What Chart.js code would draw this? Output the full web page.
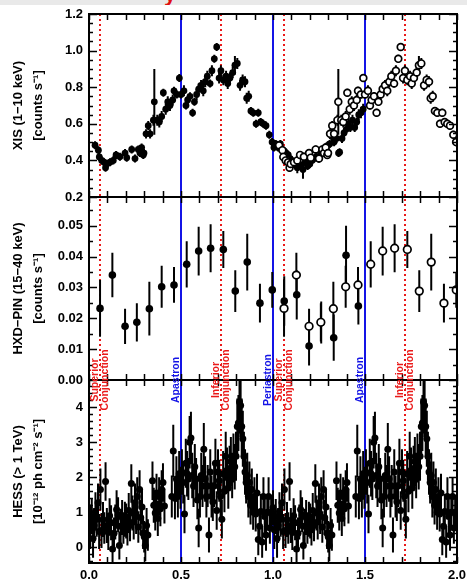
<!DOCTYPE html>
<html><head><meta charset="utf-8">
<script src="https://cdn.jsdelivr.net/npm/chart.js@4.4.1/dist/chart.umd.min.js"></script>
<style>
html,body{margin:0;padding:0;background:#fff;}
#wrap{position:relative;width:467px;height:582px;overflow:hidden;background:#fff;}
#topband{position:absolute;left:0;top:0;width:467px;height:5px;background:#e9e9e9;overflow:hidden;}
#topband span{position:absolute;left:164px;top:-19px;font:bold 22px "Liberation Sans",Arial,sans-serif;color:#e01010;}
canvas{position:absolute;left:0;top:0;}
</style></head><body>
<div id="wrap"><canvas id="c" width="467" height="582"></canvas><div id="topband"><span>y</span></div></div>
<script>
// ---------------- DATA ----------------
// Suzaku XIS (1-10 keV), continuous observation, orbital phase
const xisPhase = [0.033,0.051,0.056,0.069,0.082,0.090,0.096,0.114,0.132,0.147,
  0.168,0.196,0.205,0.232,0.250,0.268,0.277,0.286,0.295,0.299,
  0.310,0.322,0.332,0.350,0.355,0.371,0.382,0.395,0.404,0.417,
  0.428,0.440,0.455,0.462,0.477,0.491,0.500,0.516,0.527,0.536,
  0.549,0.563,0.573,0.585,0.596,0.609,0.621,0.632,0.643,0.658,
  0.668,0.681,0.694,0.707,0.717,0.730,0.745,0.754,0.766,0.781,
  0.793,0.806,0.821,0.835,0.848,0.857,0.868,0.880,0.893,0.908,
  0.920,0.933,0.947,0.962,0.980,0.995,
  1.005,1.015,1.028,1.040,1.050,1.062,1.072,1.083,1.093,1.102,
  1.112,1.122,1.132,1.142,1.152,1.163,1.175,1.188,1.200,1.212,
  1.224,1.236,1.248,1.260,1.272,1.284,1.296,1.308,1.320,1.332,
  1.345,1.356,1.362,1.375,1.386,1.398,1.410,1.420,1.432,1.444,
  1.455,1.466,1.478,1.490];
const xisRate = [0.483,0.456,0.419,0.400,0.390,0.360,0.380,0.390,0.400,0.430,
  0.420,0.440,0.415,0.460,0.410,0.460,0.440,0.470,0.430,0.440,
  0.545,0.590,0.545,0.620,0.720,0.620,0.610,0.640,0.770,0.680,
  0.720,0.700,0.730,0.780,0.760,0.850,0.760,0.780,0.700,0.730,
  0.750,0.660,0.720,0.760,0.790,0.810,0.780,0.830,0.860,0.820,
  0.890,0.955,1.020,0.850,0.890,0.840,0.860,0.820,0.850,0.880,
  0.920,0.930,0.810,0.840,0.830,0.740,0.750,0.670,0.660,0.600,
  0.660,0.610,0.600,0.590,0.540,0.500,
  0.470,0.490,0.470,0.490,0.460,0.450,0.440,0.430,0.410,0.400,
  0.380,0.390,0.360,0.380,0.370,0.350,0.390,0.370,0.380,0.400,
  0.410,0.420,0.410,0.440,0.450,0.465,0.480,0.490,0.530,0.500,
  0.520,0.440,0.445,0.520,0.550,0.570,0.600,0.580,0.620,0.580,
  0.610,0.650,0.660,0.680];
const xisErr = [0.022,0.022,0.022,0.022,0.022,0.022,0.022,0.022,0.022,0.022,
  0.022,0.022,0.022,0.022,0.022,0.022,0.022,0.022,0.022,0.022,
  0.025,0.025,0.025,0.030,0.180,0.030,0.030,0.030,0.022,0.030,
  0.030,0.030,0.030,0.022,0.022,0.022,0.022,0.030,0.022,0.022,
  0.022,0.022,0.022,0.030,0.030,0.030,0.030,0.030,0.030,0.022,
  0.030,0.022,0.022,0.030,0.030,0.030,0.030,0.030,0.030,0.030,
  0.050,0.030,0.030,0.030,0.030,0.030,0.030,0.022,0.022,0.022,
  0.022,0.022,0.022,0.022,0.022,0.022,
  0.022,0.022,0.022,0.022,0.022,0.022,0.022,0.022,0.022,0.022,
  0.022,0.022,0.030,0.022,0.022,0.050,0.022,0.022,0.022,0.022,
  0.022,0.022,0.022,0.022,0.022,0.022,0.022,0.022,0.025,0.022,
  0.025,0.022,0.022,0.025,0.025,0.025,0.030,0.025,0.030,0.025,
  0.025,0.030,0.030,0.030];

// HXD-PIN (15-40 keV)
const pinPhase = [0.060,0.127,0.196,0.260,0.328,0.395,0.462,0.531,0.596,0.661,0.730,
  0.795,0.860,0.929,0.996,1.061,1.129,1.196,1.262,1.330,1.397,1.464];
const pinRate = [0.0232,0.0340,0.0174,0.0187,0.0231,0.0302,0.0308,0.0375,0.0418,0.0427,0.0423,
  0.0288,0.0382,0.0249,0.0292,0.0256,0.0276,0.0110,0.0186,0.0137,0.0404,0.0240];
const pinErr = [0.0092,0.0072,0.0057,0.0062,0.0087,0.0068,0.0058,0.0075,0.0079,0.0078,0.0060,
  0.0068,0.0092,0.0063,0.0058,0.0080,0.0080,0.0063,0.0068,0.0075,0.0096,0.0060];

// H.E.S.S. (> 1 TeV), folded over one orbit (shown twice)
const hessPhase = [0.000,0.007,0.015,0.022,0.028,0.035,0.042,0.049,0.055,0.062,
  0.068,0.076,0.083,0.090,0.097,0.105,0.112,0.120,0.128,0.136,
  0.143,0.150,0.158,0.165,0.172,0.180,0.187,0.195,0.202,0.209,
  0.216,0.223,0.230,0.236,0.243,0.250,0.256,0.262,0.268,0.275,
  0.281,0.288,0.294,0.300,0.306,0.313,0.320,0.345,0.352,0.360,
  0.367,0.374,0.381,0.388,0.395,0.402,0.410,0.450,0.458,0.467,
  0.475,0.483,0.490,0.497,0.505,0.512,0.519,0.526,0.533,0.540,
  0.547,0.554,0.561,0.568,0.575,0.582,0.589,0.596,0.603,0.610,
  0.617,0.624,0.631,0.638,0.645,0.652,0.659,0.666,0.673,0.680,
  0.687,0.694,0.701,0.708,0.715,0.722,0.729,0.736,0.743,0.750,
  0.757,0.764,0.771,0.778,0.785,0.792,0.799,0.806,0.812,0.818,
  0.824,0.830,0.836,0.842,0.848,0.854,0.860,0.866,0.872,0.878,
  0.885,0.892,0.899,0.906,0.913,0.920,0.927,0.934,0.941,0.948,
  0.955,0.962,0.969,0.976,0.983,0.990];
const hessFlux = [1.13,0.50,0.88,0.25,0.62,1.02,0.80,1.27,0.45,1.65,
  0.48,0.79,0.55,1.88,0.62,0.42,0.90,0.70,-0.05,0.40,
  0.72,1.08,0.93,0.05,0.60,0.85,0.55,0.80,0.75,0.50,
  1.05,0.62,1.82,0.98,0.72,1.27,0.88,1.45,0.58,1.65,
  0.85,1.15,0.40,0.30,0.05,0.62,0.35,1.90,1.20,0.98,
  1.55,0.82,1.45,1.10,1.65,1.85,1.18,1.45,2.75,1.40,
  1.95,1.45,2.10,1.70,2.15,1.85,0.95,2.40,2.10,1.95,
  3.00,3.12,2.05,1.75,2.30,1.95,1.35,0.55,1.45,2.05,
  1.75,2.80,1.95,1.45,1.75,0.35,2.15,1.45,1.30,1.75,
  2.40,1.05,2.15,1.90,1.45,0.80,2.10,1.60,2.60,2.20,
  1.70,2.25,2.45,2.05,2.55,2.30,2.60,3.45,3.55,4.15,
  4.05,3.45,3.10,2.60,2.15,1.85,2.05,1.45,1.85,1.20,
  1.65,1.00,1.45,0.95,1.55,0.22,0.60,1.02,0.15,1.45,
  0.88,0.35,1.00,1.45,0.55,1.00];
const hessErr = [0.50,0.55,0.50,0.55,0.50,0.55,0.50,0.55,0.50,0.60,
  0.50,0.50,0.45,0.55,0.50,0.50,0.50,0.50,0.40,0.45,
  0.50,0.55,0.50,0.40,0.50,0.50,0.45,0.50,0.50,0.45,
  0.50,0.45,0.55,0.50,0.50,0.55,0.50,0.55,0.45,0.55,
  0.50,0.50,0.45,0.45,0.45,0.50,0.45,0.55,0.50,0.50,
  0.55,0.50,0.55,0.50,0.55,0.55,0.50,0.60,0.75,0.60,
  0.65,0.60,0.65,0.60,0.65,0.60,0.55,0.70,0.65,0.60,
  0.75,0.75,0.65,0.60,0.65,0.60,0.55,0.55,0.60,0.65,
  0.60,0.75,0.65,0.60,0.60,0.50,0.65,0.60,0.55,0.60,
  0.70,0.55,0.65,0.60,0.60,0.55,0.65,0.60,0.70,0.65,
  0.60,0.65,0.70,0.65,0.70,0.65,0.70,0.80,0.80,0.90,
  0.90,0.80,0.80,0.70,0.65,0.60,0.65,0.60,0.60,0.55,
  0.60,0.50,0.55,0.50,0.55,0.45,0.50,0.50,0.45,0.55,
  0.50,0.45,0.50,0.55,0.45,0.50];

// Axis ticks
const xTicks = [0.0, 0.5, 1.0, 1.5, 2.0];
const xisTicks = [0.2, 0.4, 0.6, 0.8, 1.0, 1.2];
const pinTicks = [0.00, 0.01, 0.02, 0.03, 0.04, 0.05];
const hessTicks = [0, 1, 2, 3, 4];

// Orbital events
const periastronPhases = [1.0];
const apastronPhases = [0.5, 1.5];
const supConjPhases = [0.058, 1.058];
const infConjPhases = [0.716, 1.716];

// ---------------- BUILD ----------------
const FONT = '"Liberation Sans", Arial, Helvetica, sans-serif';
const RED = '#ea1a1a', BLUE = '#1414e6';

function makeSet(ph, val, er, shift, keepFn) {
  const data = [], errors = [];
  ph.forEach((p, i) => { if (keepFn(p)) { data.push({x: p + shift, y: val[i]}); errors.push(er[i]); } });
  return {data, errors};
}
const xisFill = makeSet(xisPhase, xisRate, xisErr, 0, p => true);
const xisOpen = makeSet(xisPhase, xisRate, xisErr, 1, p => p < 1);
const pinFill = makeSet(pinPhase, pinRate, pinErr, 0, p => true);
const pinOpen = makeSet(pinPhase, pinRate, pinErr, 1, p => p < 1);
const hessA = makeSet(hessPhase, hessFlux, hessErr, 0, p => true);
const hessB = makeSet(hessPhase, hessFlux, hessErr, 1, p => p + 1 <= 2);

const filled = (set, axis, r, order) => ({data: set.data, errors: set.errors, yAxisID: axis, pointRadius: r,
  pointBackgroundColor: '#000', pointBorderColor: '#000', pointBorderWidth: 0, showLine: false, order: order});
const open = (set, axis, r, order) => ({data: set.data, errors: set.errors, yAxisID: axis, pointRadius: r,
  pointBackgroundColor: '#fff', pointBorderColor: '#000', pointBorderWidth: 1.7, showLine: false, order: order});

const tickFont = {family: FONT, size: 13, weight: 'bold'};
const titleFont = {family: FONT, size: 13, weight: 'bold', lineHeight: 1.55};

function yScale(min, max, ticks, dec, title) {
  return {
    type: 'linear', position: 'left', stack: 'panels', stackWeight: 1,
    min: min, max: max,
    grid: {display: false, drawTicks: false}, border: {display: false},
    afterBuildTicks: s => { s.ticks = ticks.map(v => ({value: v})); },
    ticks: {callback: v => Number(v).toFixed(dec), font: tickFont, color: '#000', padding: 6, autoSkip: false},
    title: {display: true, text: title, font: titleFont, color: '#000', padding: {top: 8, bottom: 0}},
    afterFit: s => { s.width = 89; s.paddingTop = 0; s.paddingBottom = 0; }
  };
}

const decor = {
  id: 'decor',
  beforeDatasetsDraw(chart) {
    const ctx = chart.ctx, xs = chart.scales.x, a = chart.chartArea;
    ctx.save();
    ctx.lineWidth = 2;
    ctx.strokeStyle = BLUE;
    periastronPhases.concat(apastronPhases).forEach(p => {
      const x = Math.round(xs.getPixelForValue(p));
      ctx.beginPath(); ctx.moveTo(x, a.top); ctx.lineTo(x, a.bottom); ctx.stroke();
    });
    ctx.strokeStyle = RED; ctx.setLineDash([2, 3]);
    supConjPhases.concat(infConjPhases).forEach(p => {
      const x = Math.round(xs.getPixelForValue(p));
      ctx.beginPath(); ctx.moveTo(x, a.top); ctx.lineTo(x, a.bottom); ctx.stroke();
    });
    ctx.restore();
  },
  afterDatasetsDraw(chart) {
    const ctx = chart.ctx, xs = chart.scales.x;
    const panels = [['yXIS', 0.05, 0.2], ['yPIN', 0.005, 0.01], ['yHESS', 0.2, 1]];
    ctx.save();
    ctx.strokeStyle = '#000';
    panels.forEach(([id, minor, major]) => {
      const ys = chart.scales[id];
      ctx.lineWidth = 2;
      ctx.strokeRect(xs.left, ys.top, xs.right - xs.left, ys.bottom - ys.top);
      ctx.lineWidth = 1.5;
      ctx.beginPath();
      for (let k = 0; k <= 20; k++) {
        const x = Math.round(xs.getPixelForValue(k * 0.1)) + 0.5;
        ctx.moveTo(x, ys.top); ctx.lineTo(x, ys.top + 6);
        ctx.moveTo(x, ys.bottom); ctx.lineTo(x, ys.bottom - 6);
      }
      const k0 = Math.ceil(ys.min / minor - 1e-6), k1 = Math.floor(ys.max / minor + 1e-6);
      for (let k = k0; k <= k1; k++) {
        const v = k * minor;
        const isMajor = Math.abs(v / major - Math.round(v / major)) < 1e-6;
        const len = isMajor ? 8 : 4;
        const y = Math.round(ys.getPixelForValue(v)) + 0.5;
        ctx.moveTo(xs.left, y); ctx.lineTo(xs.left + len, y);
        ctx.moveTo(xs.right, y); ctx.lineTo(xs.right - len, y);
      }
      ctx.stroke();
    });
    // event labels, centred on the PIN / HESS boundary
    const yc = chart.scales.yPIN.bottom;
    ctx.font = 'bold 10.5px ' + FONT;
    ctx.textAlign = 'center'; ctx.textBaseline = 'middle';
    const lab = (phase, lines, color) => {
      const x = xs.getPixelForValue(phase);
      ctx.fillStyle = color;
      lines.forEach((t, i) => {
        const cx = lines.length === 2 ? (i === 0 ? x - 5 : x + 5.5) : x - 5;
        ctx.save(); ctx.translate(cx, yc); ctx.rotate(-Math.PI / 2); ctx.fillText(t, 0, 0); ctx.restore();
      });
    };
    supConjPhases.forEach(p => lab(p, ['Superior', 'Conjunction'], RED));
    infConjPhases.forEach(p => lab(p, ['Inferior', 'Conjunction'], RED));
    apastronPhases.forEach(p => lab(p, ['Apastron'], BLUE));
    periastronPhases.forEach(p => lab(p, ['Periastron'], BLUE));
    ctx.restore();
  }
};

const errorBars = {
  id: 'errorBars',
  beforeDatasetsDraw(chart) {
    const ctx = chart.ctx, xs = chart.scales.x;
    chart.data.datasets.forEach(ds => {
      const ys = chart.scales[ds.yAxisID];
      ctx.save();
      ctx.beginPath(); ctx.rect(xs.left, ys.top, xs.right - xs.left, ys.bottom - ys.top); ctx.clip();
      ctx.strokeStyle = '#000'; ctx.lineWidth = 2;
      ctx.beginPath();
      ds.data.forEach((p, j) => {
        const e = ds.errors[j];
        const x = xs.getPixelForValue(p.x);
        ctx.moveTo(x, ys.getPixelForValue(p.y - e)); ctx.lineTo(x, ys.getPixelForValue(p.y + e));
      });
      ctx.stroke();
      ctx.restore();
    });
  }
};

new Chart(document.getElementById('c'), {
  type: 'scatter',
  data: {datasets: [
    open(xisOpen, 'yXIS', 3.4, 1), filled(xisFill, 'yXIS', 3.4, 2),
    open(pinOpen, 'yPIN', 3.8, 1), filled(pinFill, 'yPIN', 3.8, 2),
    filled(hessA, 'yHESS', 3.5, 1), filled(hessB, 'yHESS', 3.5, 1)
  ]},
  options: {
    responsive: false, animation: false, devicePixelRatio: 1,
    layout: {padding: {top: 14, right: 10, left: 0, bottom: 0}},
    plugins: {legend: {display: false}, tooltip: {enabled: false}},
    elements: {point: {hoverRadius: 0}},
    scales: {
      x: {type: 'linear', position: 'bottom', min: 0, max: 2,
        grid: {display: false, drawTicks: false}, border: {display: false},
        afterBuildTicks: s => { s.ticks = xTicks.map(v => ({value: v})); },
        ticks: {callback: v => Number(v).toFixed(1), font: tickFont, color: '#000', padding: 5, maxRotation: 0, autoSkip: false},
        afterFit: s => { s.height = 19; s.paddingLeft = 0; s.paddingRight = 0; }},
      yHESS: yScale(-0.45, 4.78, hessTicks, 0, ['HESS (> 1 TeV)', '[10⁻¹² ph cm⁻² s⁻¹]']),
      yPIN: yScale(0, 0.0593, pinTicks, 2, ['HXD−PIN (15−40 keV)', '[counts s⁻¹]']),
      yXIS: yScale(0.2, 1.2, xisTicks, 1, ['XIS (1−10 keV)', '[counts s⁻¹]'])
    }
  },
  plugins: [decor, errorBars]
});
</script></body></html>
